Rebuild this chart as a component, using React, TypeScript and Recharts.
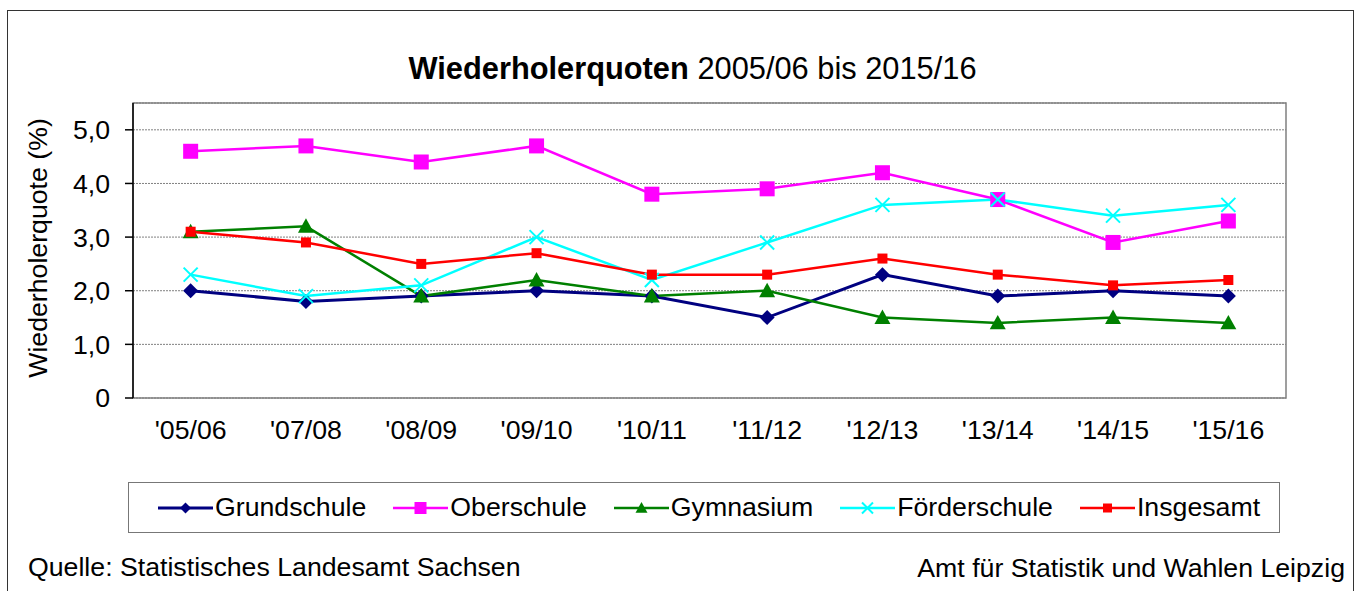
import React from 'react';
import { LineChart, Line, XAxis, YAxis, CartesianGrid, ReferenceArea } from 'recharts';

const years = ["'05/06", "'07/08", "'08/09", "'09/10", "'10/11", "'11/12", "'12/13", "'13/14", "'14/15", "'15/16"];
const grundschule = [2.0, 1.8, 1.9, 2.0, 1.9, 1.5, 2.3, 1.9, 2.0, 1.9];
const oberschule = [4.6, 4.7, 4.4, 4.7, 3.8, 3.9, 4.2, 3.7, 2.9, 3.3];
const gymnasium = [3.1, 3.2, 1.9, 2.2, 1.9, 2.0, 1.5, 1.4, 1.5, 1.4];
const foerderschule = [2.3, 1.9, 2.1, 3.0, 2.2, 2.9, 3.6, 3.7, 3.4, 3.6];
const insgesamt = [3.1, 2.9, 2.5, 2.7, 2.3, 2.3, 2.6, 2.3, 2.1, 2.2];
const yTicks = [0, 1, 2, 3, 4, 5];
const boundaryTicks = [0, 1, 2, 3, 4, 5, 6, 7, 8, 9, 10];
const labelTicks = years.map((_, i) => i + 0.5);

const data = years.map((y, i) => ({
  pos: i + 0.5,
  year: y,
  grundschule: grundschule[i],
  oberschule: oberschule[i],
  gymnasium: gymnasium[i],
  foerderschule: foerderschule[i],
  insgesamt: insgesamt[i],
}));

type Shape = 'diamond' | 'square' | 'triangle' | 'x';

const series: { key: string; name: string; color: string; shape: Shape; size: number; legendSize: number; width: number }[] = [
  { key: 'grundschule', name: 'Grundschule', color: '#000080', shape: 'diamond', size: 15, legendSize: 11, width: 3 },
  { key: 'oberschule', name: 'Oberschule', color: '#FF00FF', shape: 'square', size: 15, legendSize: 12, width: 2.5 },
  { key: 'gymnasium', name: 'Gymnasium', color: '#008000', shape: 'triangle', size: 16, legendSize: 12, width: 2.5 },
  { key: 'foerderschule', name: 'Förderschule', color: '#00FFFF', shape: 'x', size: 14, legendSize: 11, width: 2.5 },
  { key: 'insgesamt', name: 'Insgesamt', color: '#FF0000', shape: 'square', size: 10, legendSize: 9, width: 2.5 },
];

const FONT = '"Liberation Sans", Arial, sans-serif';
const FS = 26.7;

function Marker({ shape, color, cx, cy, size }: { shape: Shape; color: string; cx: number; cy: number; size: number }) {
  const h = size / 2;
  if (shape === 'diamond') {
    return <polygon points={`${cx},${cy - h} ${cx + h},${cy} ${cx},${cy + h} ${cx - h},${cy}`} fill={color} />;
  }
  if (shape === 'square') {
    return <rect x={cx - h} y={cy - h} width={size} height={size} fill={color} />;
  }
  if (shape === 'triangle') {
    return <polygon points={`${cx},${cy - h} ${cx + h},${cy + h * 0.8} ${cx - h},${cy + h * 0.8}`} fill={color} />;
  }
  return (
    <g stroke={color} strokeWidth={2}>
      <line x1={cx - h} y1={cy - h} x2={cx + h} y2={cy + h} />
      <line x1={cx - h} y1={cy + h} x2={cx + h} y2={cy - h} />
    </g>
  );
}

const makeDot = (shape: Shape, color: string, size: number) => (p: any) => (
  <g key={`dot-${p.index}`}>
    <Marker shape={shape} color={color} cx={p.cx} cy={p.cy} size={size} />
  </g>
);

const fmtY = (v: number) => (v === 0 ? '0' : v.toFixed(1).replace('.', ','));
const fmtX = (v: number) => years[Math.round(v - 0.5)] ?? '';

export default function App() {
  return (
    <div style={{ position: 'absolute', left: 0, top: 0, width: 1357, height: 591, overflow: 'hidden', background: '#fff', fontFamily: FONT }}>
      <div style={{ position: 'absolute', left: 7, top: 10, width: 1345, height: 600, border: '1px solid #333' }} />
      <div style={{ position: 'absolute', left: 14, top: 51, width: 1357, textAlign: 'center', fontSize: 30.8, lineHeight: '36px', color: '#000' }}>
        <b>Wiederholerquoten</b> 2005/06 bis 2015/16
      </div>
      <div
        style={{
          position: 'absolute',
          left: 38 - 200,
          top: 248 - 16,
          width: 400,
          height: 32,
          lineHeight: '32px',
          textAlign: 'center',
          fontSize: FS,
          transform: 'rotate(-90deg)',
          color: '#000',
        }}
      >
        Wiederholerquote (%)
      </div>
      <div style={{ position: 'absolute', left: 0, top: 0 }}>
        <LineChart width={1357} height={591} data={data} margin={{ top: 103, right: 71, bottom: 133, left: 73 }}>
          <CartesianGrid horizontal vertical={false} stroke="#808080" strokeDasharray="2 1" yAxisId="y" xAxisId="num" />
          <ReferenceArea yAxisId="y" xAxisId="num" x1={0} x2={10} y1={0} y2={5.5} fill="none" stroke="#808080" strokeWidth={1.5} ifOverflow="visible" />
          <XAxis
            xAxisId="num"
            dataKey="pos"
            type="number"
            domain={[0, 10]}
            ticks={boundaryTicks}
            tickFormatter={() => ''}
            tickSize={7}
            height={0}
            axisLine={{ stroke: '#000', strokeWidth: 1.5 }}
            tickLine={{ stroke: '#000', strokeWidth: 1.5 }}
          />
          <XAxis
            xAxisId="lab"
            dataKey="pos"
            type="number"
            domain={[0, 10]}
            ticks={labelTicks}
            tickFormatter={fmtX}
            height={60}
            tickLine={false}
            tickSize={0}
            tickMargin={22}
            axisLine={false}
            interval={0}
            tick={{ fill: '#000', fontSize: FS, fontFamily: FONT }}
          />
          <YAxis
            yAxisId="y"
            width={60}
            domain={[0, 5.5]}
            ticks={yTicks}
            tickFormatter={fmtY}
            tickSize={8}
            tickMargin={15}
            axisLine={{ stroke: '#000', strokeWidth: 1.5 }}
            tickLine={{ stroke: '#000', strokeWidth: 1.5 }}
            tick={{ fill: '#000', fontSize: FS, fontFamily: FONT }}
          />
          {series.map((s) => (
            <Line
              key={s.key}
              xAxisId="num"
              yAxisId="y"
              type="linear"
              dataKey={s.key}
              name={s.name}
              stroke={s.color}
              strokeWidth={s.width}
              dot={makeDot(s.shape, s.color, s.size)}
              activeDot={false}
              isAnimationActive={false}
            />
          ))}
        </LineChart>
      </div>
      <div
        style={{
          position: 'absolute',
          left: 128,
          top: 482,
          width: 1152,
          height: 51,
          boxSizing: 'border-box',
          border: '1px solid #777',
          display: 'flex',
          alignItems: 'center',
          justifyContent: 'flex-start',
          paddingLeft: 29,
          fontSize: FS,
          color: '#000',
        }}
      >
        {series.map((s, i) => (
          <div key={s.key} style={{ display: 'flex', alignItems: 'center', marginLeft: i === 0 ? 0 : 27 }}>
            <svg width={55} height={20} style={{ marginRight: 2, display: 'block' }}>
              <line x1={0} y1={10} x2={55} y2={10} stroke={s.color} strokeWidth={s.width} />
              <Marker shape={s.shape} color={s.color} cx={27.5} cy={10} size={s.legendSize} />
            </svg>
            <span>{s.name}</span>
          </div>
        ))}
      </div>
      <div style={{ position: 'absolute', left: 28, top: 552, fontSize: FS, lineHeight: '30px', color: '#000' }}>
        Quelle: Statistisches Landesamt Sachsen
      </div>
      <div style={{ position: 'absolute', right: 12, top: 553, fontSize: FS, lineHeight: '30px', color: '#000', textAlign: 'right' }}>
        Amt für Statistik und Wahlen Leipzig
      </div>
    </div>
  );
}
